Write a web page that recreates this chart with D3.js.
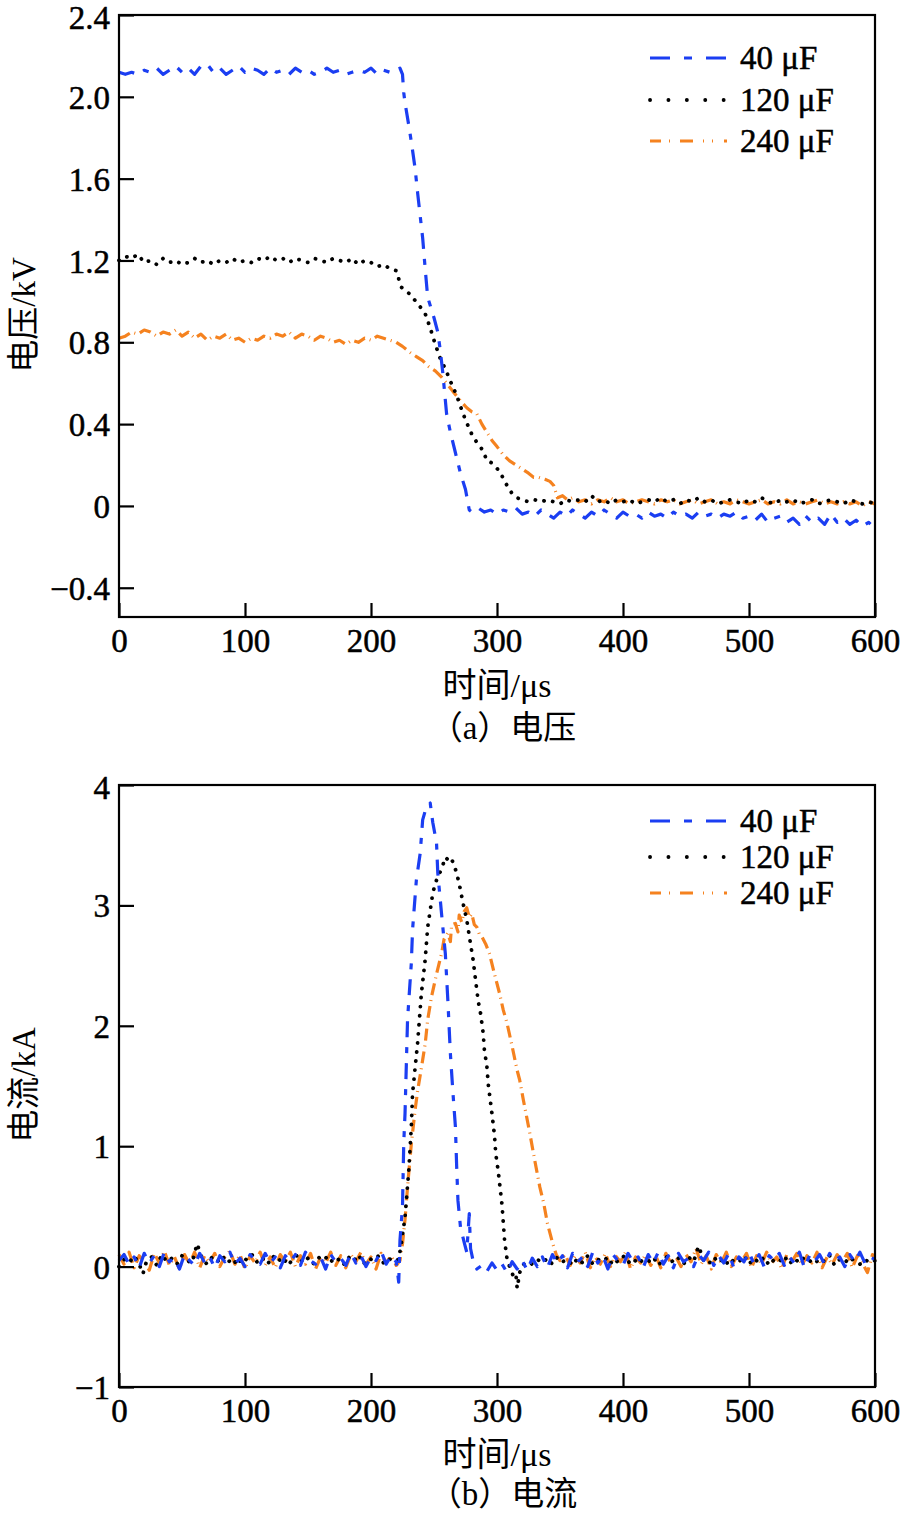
<!DOCTYPE html>
<html><head><meta charset="utf-8">
<script src="https://cdn.jsdelivr.net/npm/d3@7"></script>
<style>
body{margin:0;background:#fff;}
svg{display:block;}
text{font-family:"Liberation Serif","Times New Roman","Noto Sans CJK SC",serif;fill:#000;}
.num{stroke:#000;stroke-width:0.5px;}
</style></head><body>
<svg id="c" width="904" height="1513"></svg>
<script>
// ---------- data ----------
const seriesNames = ["40 μF", "120 μF", "240 μF"];
const xTicks = [0, 100, 200, 300, 400, 500, 600];
const vTicks = [2.4, 2.0, 1.6, 1.2, 0.8, 0.4, 0, -0.4];
const vTickLabels = ["2.4", "2.0", "1.6", "1.2", "0.8", "0.4", "0", "−0.4"];
const iTicks = [4, 3, 2, 1, 0, -1];
const iTickLabels = ["4", "3", "2", "1", "0", "−1"];

// voltage (kV) [time µs, value]
const volt40 = [[0,2.12],[5,2.11],[10,2.12],[15,2.11],[20,2.13],[25,2.12],[30,2.14],[35,2.11],[40,2.13],[45,2.15],[50,2.12],[55,2.14],[60,2.11],[65,2.15],[70,2.16],[75,2.12],[80,2.14],[85,2.11],[90,2.13],[95,2.15],[100,2.12],[105,2.14],[110,2.13],[115,2.11],[120,2.14],[125,2.12],[130,2.13],[135,2.11],[140,2.14],[145,2.12],[150,2.13],[155,2.11],[160,2.12],[165,2.14],[170,2.12],[175,2.13],[180,2.11],[185,2.12],[190,2.13],[195,2.12],[200,2.14],[205,2.11],[210,2.13],[215,2.12],[220,2.13],[223,2.14],[225,2.11],[226,2.02],[227,1.97],[230,1.86],[232,1.78],[235,1.65],[237,1.53],[239,1.42],[241,1.31],[243,1.16],[245,1.02],[248,0.96],[250,0.92],[253,0.85],[255,0.76],[257,0.65],[260,0.45],[263,0.36],[267,0.26],[271,0.16],[275,0.08],[278,-0.02],[280,-0.03],[285,-0.01],[290,-0.03],[295,-0.02],[300,-0.04],[305,-0.02],[310,-0.03],[315,-0.01],[320,-0.04],[325,-0.03],[330,-0.05],[335,-0.02],[340,-0.04],[345,-0.06],[350,-0.03],[355,-0.05],[360,-0.02],[365,-0.04],[370,-0.06],[375,-0.03],[380,-0.05],[385,-0.02],[390,-0.04],[395,-0.06],[400,-0.03],[405,-0.05],[410,-0.04],[415,-0.06],[420,-0.03],[425,-0.05],[430,-0.04],[435,-0.06],[440,-0.03],[445,-0.05],[450,-0.04],[455,-0.06],[460,-0.03],[465,-0.05],[470,-0.04],[475,-0.06],[480,-0.04],[485,-0.05],[490,-0.03],[495,-0.06],[500,-0.05],[505,-0.07],[510,-0.04],[515,-0.08],[520,-0.06],[525,-0.05],[530,-0.08],[535,-0.06],[540,-0.09],[545,-0.05],[550,-0.08],[555,-0.06],[560,-0.09],[565,-0.04],[570,-0.08],[575,-0.06],[580,-0.09],[585,-0.07],[590,-0.10],[595,-0.08],[600,-0.11]];
const volt120 = [[0,1.20],[5,1.22],[10,1.21],[15,1.23],[20,1.19],[25,1.20],[30,1.18],[35,1.21],[40,1.19],[45,1.20],[50,1.18],[55,1.19],[60,1.21],[65,1.19],[70,1.20],[75,1.18],[80,1.20],[85,1.19],[90,1.21],[95,1.19],[100,1.20],[105,1.19],[110,1.21],[115,1.20],[120,1.22],[125,1.20],[130,1.21],[135,1.19],[140,1.21],[145,1.20],[150,1.19],[155,1.21],[160,1.20],[165,1.19],[170,1.21],[175,1.20],[180,1.19],[185,1.21],[190,1.18],[195,1.20],[200,1.19],[205,1.17],[210,1.18],[215,1.16],[220,1.15],[224,1.07],[230,1.04],[237,0.99],[243,0.94],[247,0.87],[251,0.79],[255,0.72],[259,0.67],[263,0.61],[268,0.54],[272,0.47],[275,0.42],[280,0.35],[284,0.31],[289,0.27],[292,0.22],[296,0.21],[302,0.17],[307,0.11],[312,0.06],[316,0.04],[320,0.03],[325,0.02],[330,0.03],[335,0.02],[340,0.03],[345,0.02],[350,0.01],[355,0.03],[360,0.02],[365,0.03],[370,0.02],[375,0.05],[380,0.02],[385,0.03],[390,0.01],[395,0.03],[400,0.02],[405,0.03],[410,0.01],[415,0.02],[420,0.03],[425,0.02],[430,0.04],[435,0.02],[440,0.03],[445,0.01],[450,0.03],[455,0.02],[460,0.04],[465,0.02],[470,0.03],[475,0.01],[480,0.02],[485,0.03],[490,0.02],[495,0.01],[500,0.03],[505,0.02],[510,0.04],[515,0.02],[520,0.01],[525,0.03],[530,0.02],[535,0.03],[540,0.01],[545,0.02],[550,0.03],[555,0.01],[560,0.02],[565,0.03],[570,0.02],[575,0.01],[580,0.03],[585,0.02],[590,0.01],[595,0.02],[600,0.01]];
const volt240 = [[0,0.82],[5,0.83],[10,0.85],[15,0.84],[20,0.86],[25,0.85],[30,0.83],[35,0.85],[40,0.84],[45,0.86],[50,0.83],[55,0.85],[60,0.82],[65,0.84],[70,0.81],[75,0.83],[80,0.82],[85,0.84],[90,0.81],[95,0.82],[100,0.80],[105,0.82],[110,0.81],[115,0.83],[120,0.82],[125,0.84],[130,0.83],[135,0.85],[140,0.82],[145,0.84],[150,0.83],[155,0.81],[160,0.83],[165,0.82],[170,0.80],[175,0.81],[180,0.79],[185,0.81],[190,0.80],[195,0.82],[200,0.81],[205,0.83],[210,0.82],[215,0.81],[220,0.80],[225,0.78],[231,0.75],[236,0.73],[241,0.71],[246,0.68],[251,0.66],[256,0.63],[260,0.60],[265,0.56],[269,0.53],[273,0.50],[276,0.48],[280,0.46],[284,0.45],[288,0.40],[292,0.36],[296,0.32],[300,0.29],[305,0.25],[310,0.22],[315,0.20],[320,0.18],[325,0.16],[329,0.14],[333,0.14],[338,0.13],[342,0.12],[345,0.10],[348,0.04],[352,0.05],[356,0.03],[360,0.04],[365,0.02],[370,0.03],[375,0.01],[380,0.03],[385,0.02],[390,0.04],[395,0.02],[400,0.03],[405,0.01],[410,0.02],[415,0.03],[420,0.02],[425,0.01],[430,0.03],[435,0.02],[440,0.03],[445,0.01],[450,0.02],[455,0.03],[460,0.01],[465,0.02],[470,0.03],[475,0.01],[480,0.02],[485,0.01],[490,0.03],[495,0.02],[500,0.01],[505,0.02],[510,0.03],[515,0.01],[520,0.02],[525,0.01],[530,0.03],[535,0.01],[540,0.02],[545,0.01],[550,0.02],[555,0.03],[560,0.01],[565,0.02],[570,0.01],[575,0.02],[580,0.01],[585,0.02],[590,0.00],[595,0.02],[600,0.01]];

// current (kA) [time µs, value]
const curr40 = [[0,0.05],[4,0.10],[8,0.02],[12,0.08],[16,-0.01],[20,0.11],[24,0.03],[28,0.09],[32,0.00],[36,0.12],[40,0.04],[44,0.07],[48,-0.02],[52,0.10],[56,0.05],[60,0.01],[64,0.11],[68,0.03],[72,0.08],[76,-0.01],[80,0.09],[84,0.04],[88,0.12],[92,0.02],[96,0.07],[100,0.00],[104,0.10],[108,0.05],[112,0.02],[116,0.11],[120,0.03],[124,0.08],[128,-0.01],[132,0.09],[136,0.04],[140,0.10],[144,0.01],[148,0.12],[152,0.05],[156,0.02],[160,0.08],[164,-0.02],[168,0.10],[172,0.04],[176,0.07],[180,0.01],[184,0.11],[188,0.03],[192,0.09],[196,0.00],[200,0.08],[204,0.05],[208,0.13],[212,0.02],[216,0.09],[220,0.04],[222,-0.13],[223,0.22],[225,0.50],[226,1.03],[227,1.27],[229,2.05],[232,2.52],[233,2.80],[236,3.21],[239,3.43],[241,3.71],[244,3.82],[247,3.85],[249,3.69],[252,3.52],[253,3.27],[256,2.93],[259,2.60],[261,2.21],[263,1.77],[265,1.45],[267,1.16],[268,0.83],[269,0.55],[271,0.33],[274,0.20],[276,0.12],[278,0.44],[279,0.15],[281,0.05],[284,-0.02],[288,0.01],[292,-0.04],[296,0.03],[300,-0.03],[304,0.02],[308,-0.05],[312,0.04],[316,-0.02],[320,0.05],[324,-0.03],[328,0.07],[332,0.00],[336,0.08],[340,-0.01],[344,0.10],[348,0.03],[352,0.09],[356,-0.01],[360,0.11],[364,0.04],[368,0.08],[372,0.00],[376,0.12],[380,0.03],[384,0.09],[388,-0.02],[392,0.10],[396,0.05],[400,0.01],[404,0.11],[408,0.04],[412,0.08],[416,-0.01],[420,0.10],[424,0.03],[428,0.12],[432,0.02],[436,0.09],[440,-0.01],[444,0.11],[448,0.04],[452,0.07],[456,0.00],[460,0.10],[464,0.05],[468,0.12],[472,0.01],[476,0.09],[480,0.03],[484,0.11],[488,-0.01],[492,0.08],[496,0.04],[500,0.12],[504,0.02],[508,0.10],[512,0.00],[516,0.09],[520,0.05],[524,0.11],[528,0.01],[532,0.08],[536,0.03],[540,0.12],[544,-0.01],[548,0.09],[552,0.04],[556,0.10],[560,0.02],[564,0.11],[568,0.05],[572,0.08],[576,0.00],[580,0.10],[584,0.04],[588,0.12],[592,0.03],[596,0.08],[600,0.06]];
const curr120 = [[0,0.00],[4,0.06],[8,0.03],[12,0.09],[16,0.02],[19,-0.06],[22,0.05],[26,0.08],[30,0.01],[34,0.10],[38,0.04],[42,0.07],[46,0.02],[50,0.09],[54,0.05],[58,0.03],[62,0.19],[66,0.06],[70,0.02],[74,0.08],[78,0.04],[82,0.09],[86,0.03],[90,0.07],[94,0.01],[98,0.08],[102,0.05],[106,0.10],[110,0.03],[114,0.07],[118,0.02],[122,0.09],[126,0.04],[130,0.08],[134,0.01],[138,0.06],[142,0.10],[146,0.03],[150,0.07],[154,0.02],[158,0.08],[162,0.05],[166,0.09],[170,0.03],[174,0.06],[178,0.01],[182,0.08],[186,0.04],[190,0.10],[194,0.02],[198,0.07],[202,0.05],[206,0.09],[210,0.03],[214,0.07],[218,0.04],[222,0.06],[224,0.19],[227,0.41],[230,0.80],[232,1.16],[233,1.44],[235,1.65],[237,1.86],[240,2.27],[243,2.55],[245,2.82],[249,3.10],[251,3.18],[253,3.24],[256,3.30],[259,3.40],[261,3.38],[263,3.40],[265,3.36],[268,3.27],[271,3.13],[273,3.02],[276,2.88],[279,2.68],[281,2.55],[283,2.38],[285,2.21],[287,2.10],[289,1.94],[290,1.80],[292,1.66],[293,1.52],[296,1.27],[298,1.09],[299,0.94],[301,0.79],[304,0.51],[306,0.22],[308,0.06],[310,0.00],[313,-0.08],[315,-0.06],[316,-0.18],[318,-0.05],[320,0.01],[324,0.04],[328,0.02],[332,0.06],[336,0.03],[340,0.07],[344,0.02],[348,0.08],[352,0.04],[356,0.06],[360,0.01],[364,0.07],[368,0.03],[372,0.09],[376,0.02],[380,0.06],[384,0.04],[388,0.08],[392,0.01],[396,0.05],[400,0.09],[404,0.03],[408,0.07],[412,0.02],[416,0.06],[420,0.04],[424,0.08],[428,0.01],[432,0.06],[436,0.09],[440,0.03],[444,0.07],[448,0.02],[452,0.08],[456,0.04],[460,0.17],[464,0.05],[468,0.02],[472,0.08],[476,0.03],[480,0.07],[484,0.01],[488,0.06],[492,0.04],[496,0.09],[500,0.02],[504,0.07],[508,0.03],[512,0.08],[516,0.01],[520,0.06],[524,0.04],[528,0.09],[532,0.02],[536,0.07],[540,0.03],[544,0.08],[548,0.05],[552,0.02],[556,0.07],[560,0.04],[564,0.09],[568,0.01],[572,0.06],[576,0.03],[580,0.08],[584,0.04],[588,0.02],[592,0.06],[596,0.03],[600,0.05]];
const curr240 = [[0,0.10],[4,0.02],[8,0.12],[12,-0.01],[16,0.09],[20,0.04],[24,-0.03],[28,0.11],[32,0.03],[36,0.13],[40,0.01],[44,0.08],[48,-0.02],[52,0.10],[56,0.02],[60,0.12],[64,-0.01],[68,0.09],[72,0.03],[76,0.11],[80,0.00],[84,0.08],[88,0.13],[92,0.02],[96,0.10],[100,-0.02],[104,0.09],[108,0.03],[112,0.12],[116,0.01],[120,0.08],[124,-0.01],[128,0.10],[132,0.04],[136,0.12],[140,0.00],[144,0.09],[148,0.02],[152,0.11],[156,-0.02],[160,0.08],[164,0.03],[168,0.12],[172,0.01],[176,0.09],[180,-0.01],[184,0.10],[188,0.04],[192,0.12],[196,0.02],[200,0.08],[204,-0.02],[208,0.11],[212,0.03],[216,0.09],[220,0.01],[223,0.05],[225,0.19],[227,0.39],[229,0.66],[232,1.02],[235,1.30],[237,1.46],[240,1.65],[243,1.85],[245,2.05],[248,2.24],[252,2.43],[256,2.60],[258,2.72],[261,2.77],[263,2.70],[264,2.84],[267,2.85],[269,2.78],[270,2.92],[272,2.86],[274,2.95],[276,2.98],[278,2.90],[280,2.93],[282,2.84],[284,2.82],[286,2.76],[288,2.74],[291,2.68],[294,2.60],[298,2.43],[302,2.27],[305,2.13],[308,2.02],[312,1.83],[316,1.63],[318,1.55],[321,1.38],[326,1.11],[330,0.88],[334,0.66],[337,0.53],[340,0.36],[344,0.20],[347,0.10],[350,0.05],[354,0.10],[358,0.01],[362,0.09],[366,0.03],[370,0.12],[374,-0.01],[378,0.08],[382,0.02],[386,0.11],[390,0.00],[394,0.09],[398,0.04],[402,0.12],[406,-0.02],[410,0.08],[414,0.03],[418,0.10],[422,0.01],[426,0.09],[430,-0.01],[434,0.11],[438,0.03],[442,0.08],[446,0.00],[450,0.10],[454,0.04],[458,0.15],[462,0.02],[466,0.09],[470,-0.02],[474,0.10],[478,0.03],[482,0.12],[486,0.00],[490,0.08],[494,0.04],[498,0.11],[502,-0.01],[506,0.09],[510,0.02],[514,0.12],[518,0.03],[522,0.08],[526,-0.02],[530,0.10],[534,0.04],[538,0.11],[542,0.01],[546,0.09],[550,0.03],[554,0.12],[558,-0.01],[562,0.08],[566,0.02],[570,0.10],[574,0.04],[578,0.11],[582,-0.01],[586,0.09],[590,0.03],[594,-0.05],[598,0.10],[600,0.05]];

// ---------- styles ----------
const colors = ["#1b3ef2", "#000000", "#f5821f"];
const dashData = ["16,10,6,10", "0.1,9", "12,5,1,5"];
const dashLegend = ["20,14,8,14", "0.1,18.3", "11,8,1,10,13,10,1,8,1"];
const caps = ["butt", "round", "butt"];
const widths = [3.2, 3.8, 3.2];

const svg = d3.select("#c");
const L = 119, R = 875;

function panel(o) {
  const g = svg.append("g");
  const x = d3.scaleLinear().domain([0, 600]).range([L, R]);
  const y = d3.scaleLinear().domain(o.ydom).range([o.bottom, o.top]);

  // series (draw order: orange, black, blue)
  const line = d3.line().x(d => x(d[0])).y(d => y(d[1]));
  [2, 1, 0].forEach(i => {
    g.append("path").datum(o.data[i])
      .attr("d", line).attr("fill", "none")
      .attr("stroke", colors[i]).attr("stroke-width", widths[i])
      .attr("stroke-dasharray", dashData[i])
      .attr("stroke-linecap", caps[i]).attr("stroke-linejoin", "round");
  });

  // frame
  g.append("rect").attr("x", L).attr("y", o.top).attr("width", R - L).attr("height", o.bottom - o.top)
    .attr("fill", "none").attr("stroke", "#000").attr("stroke-width", 2.2);

  // y axis
  const ya = g.append("g").attr("transform", `translate(${L},0)`)
    .call(d3.axisLeft(y).tickValues(o.yticks).tickSize(-15).tickPadding(9)
      .tickFormat((d, i) => o.ylabels[i]));
  ya.select(".domain").remove();
  ya.selectAll("line").attr("stroke-width", 2.2);
  ya.selectAll("text").attr("class", "num").style("font-size", "33px").attr("font-family", null)
    .attr("dy", (d, i) => i === 0 ? "0.42em" : "0.35em");

  // x axis
  const xa = g.append("g").attr("transform", `translate(0,${o.bottom})`)
    .call(d3.axisBottom(x).tickValues(xTicks).tickSize(-14).tickPadding(12));
  xa.select(".domain").remove();
  xa.selectAll("line").attr("stroke-width", 2.2);
  xa.selectAll("text").attr("class", "num").style("font-size", "33px").attr("font-family", null);

  // axis titles
  g.append("text").attr("x", 497).attr("y", o.xTitleY).attr("text-anchor", "middle")
    .style("font-size", "34px").text("时间/μs");
  g.append("text").attr("x", 503).attr("y", o.capY).attr("text-anchor", "middle")
    .style("font-size", "33px").text(o.caption);
  g.append("text").attr("transform", `translate(35,${o.yTitleMid}) rotate(-90)`)
    .attr("text-anchor", "middle").style("font-size", "33px").text(o.yTitle);

  // legend
  o.legY.forEach((ly, i) => {
    g.append("line").attr("x1", 650).attr("x2", 727).attr("y1", ly).attr("y2", ly)
      .attr("stroke", colors[i]).attr("stroke-width", widths[i])
      .attr("stroke-dasharray", dashLegend[i]).attr("stroke-linecap", caps[i]);
    g.append("text").attr("class", "num").attr("x", 740).attr("y", ly + 11)
      .style("font-size", "33px").text(seriesNames[i]);
  });
}

panel({
  top: 15, bottom: 617, ydom: [-0.543, 2.4],
  yticks: vTicks, ylabels: vTickLabels,
  data: [volt40, volt120, volt240],
  xTitleY: 697, capY: 739, caption: "（a）电压",
  yTitle: "电压/kV", yTitleMid: 315,
  legY: [58, 100, 141]
});
panel({
  top: 785, bottom: 1387, ydom: [-1, 4],
  yticks: iTicks, ylabels: iTickLabels,
  data: [curr40, curr120, curr240],
  xTitleY: 1466, capY: 1505, caption: "（b）电流",
  yTitle: "电流/kA", yTitleMid: 1085,
  legY: [821, 857, 893]
});
</script>
</body></html>
